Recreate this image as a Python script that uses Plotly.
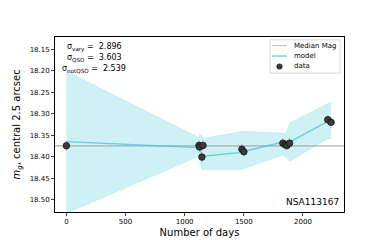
import plotly.graph_objects as go

# Observations
days = [0, 1121, 1126, 1146, 1155, 1484, 1501, 1830, 1850, 1864, 1887, 2210, 2238]
mags = [18.3746, 18.3737, 18.3775, 18.401, 18.3737, 18.3826, 18.3886,
        18.3685, 18.372, 18.374, 18.3685, 18.314, 18.320]
mag_err = [0.012] * len(days)

# Model (GP) mean and band
model_days = [0, 1121, 1126, 1146, 1155, 1484, 1501, 1830, 1850, 1864, 1887, 2210, 2238]
model_mag = [18.365, 18.378, 18.379, 18.398, 18.399, 18.390, 18.388,
             18.366, 18.367, 18.368, 18.366, 18.318, 18.316]
model_lo = [18.200, 18.356, 18.347, 18.352, 18.357, 18.341, 18.341,
            18.345, 18.345, 18.340, 18.322, 18.276, 18.274]
model_hi = [18.532, 18.399, 18.408, 18.430, 18.430, 18.430, 18.428,
            18.396, 18.400, 18.405, 18.411, 18.358, 18.358]

median_mag = 18.375
sigma_labels = ["vary", "QSO", "notQSO"]
sigma_values = [2.896, 3.603, 2.539]
object_name = "NSA113167"
legend_labels = ["Median Mag", "model", "data"]

x_range = [-96, 2347]
y_range = [18.529, 18.121]
y_ticks = [18.15, 18.20, 18.25, 18.30, 18.35, 18.40, 18.45, 18.50]
x_ticks = [0, 500, 1000, 1500, 2000]

FONT = "DejaVu Sans"
W, H = 374, 240
ML, MR, MT, MB = 47, 38, 29, 27
PW, PH = W - ML - MR, H - MT - MB


def px(x):
    return (x - ML) / PW


def py(y):
    return 1 - (y - MT) / PH


MEDIAN_COL = "rgba(160,160,160,0.6)"
MODEL_COL = "rgba(60,190,215,0.7)"
DATA_COL = "#3c3c3c"

fig = go.Figure()

# band
fig.add_trace(go.Scatter(x=model_days, y=model_lo, mode="lines",
                         line=dict(width=0.5, color="rgba(23,190,207,0.25)"),
                         showlegend=False, hoverinfo="skip"))
fig.add_trace(go.Scatter(x=model_days, y=model_hi, mode="lines",
                         line=dict(width=0.5, color="rgba(23,190,207,0.25)"),
                         fill="tonexty", fillcolor="rgba(23,190,207,0.21)",
                         showlegend=False, hoverinfo="skip"))
# median
fig.add_trace(go.Scatter(x=x_range, y=[median_mag, median_mag], mode="lines",
                         line=dict(color=MEDIAN_COL, width=1.8),
                         name=legend_labels[0], showlegend=False))
# model
fig.add_trace(go.Scatter(x=model_days, y=model_mag, mode="lines",
                         line=dict(color=MODEL_COL, width=1.4),
                         name=legend_labels[1], showlegend=False))
# data
fig.add_trace(go.Scatter(x=days, y=mags, mode="markers",
                         marker=dict(size=6.5, color=DATA_COL,
                                     line=dict(color="#111111", width=0.8)),
                         error_y=dict(type="data", array=mag_err, color="rgba(150,150,150,0.6)",
                                      thickness=1, width=0),
                         name=legend_labels[2], showlegend=False))

# sigma text block
for i, (lab, val) in enumerate(zip(sigma_labels, sigma_values)):
    fig.add_annotation(x=px(86), y=py([40, 51.5, 62.5][i]), xref="paper", yref="paper",
                       text=f"σ<sub>{lab}</sub> =  {val:.3f}", showarrow=False,
                       xanchor="center", yanchor="middle",
                       font=dict(family=FONT, size=8, color="black"))

fig.add_annotation(x=px(333), y=py(203), xref="paper", yref="paper", text=object_name,
                   showarrow=False, xanchor="right", yanchor="middle",
                   font=dict(family=FONT, size=9, color="black"))

fig.add_annotation(x=px(9), y=0.5, xref="paper", yref="paper",
                   text="<i>m</i><sub><i>g</i></sub>, central 2.5 arcsec",
                   textangle=-90, showarrow=False, xanchor="center", yanchor="middle",
                   font=dict(family=FONT, size=10, color="black"))

# manual legend (matplotlib-style compact box)
fig.add_shape(type="rect", xref="paper", yref="paper",
              x0=px(262), x1=px(332), y0=py(67), y1=py(32),
              line=dict(color="#d0d0d0", width=0.8), fillcolor="rgba(255,255,255,0.8)",
              layer="above")
leg_y = [38, 49, 60]
fig.add_shape(type="line", xref="paper", yref="paper", x0=px(264), x1=px(279),
              y0=py(leg_y[0]), y1=py(leg_y[0]), line=dict(color=MEDIAN_COL, width=1.2),
              layer="above")
fig.add_shape(type="line", xref="paper", yref="paper", x0=px(264), x1=px(279),
              y0=py(leg_y[1]), y1=py(leg_y[1]), line=dict(color=MODEL_COL, width=1.5),
              layer="above")
fig.add_shape(type="circle", xref="paper", yref="paper", x0=px(268.8), x1=px(274.2),
              y0=py(leg_y[2] + 2.7), y1=py(leg_y[2] - 2.7),
              line=dict(color="#111111", width=0.8), fillcolor=DATA_COL, layer="above")
for lab, yy in zip(legend_labels, leg_y):
    fig.add_annotation(x=px(284), y=py(yy), xref="paper", yref="paper", text=lab,
                       showarrow=False, xanchor="left", yanchor="middle",
                       font=dict(family=FONT, size=7, color="black"))

fig.update_layout(
    width=W, height=H,
    margin=dict(l=ML, r=MR, t=MT, b=MB),
    paper_bgcolor="white", plot_bgcolor="white",
    font=dict(family=FONT, size=8, color="black"),
    showlegend=False,
    xaxis=dict(range=x_range, tickvals=x_ticks, ticks="outside", ticklen=3,
               tickwidth=0.8, showline=True, linecolor="black", linewidth=0.8,
               mirror=True, showgrid=False, zeroline=False,
               title=dict(text="Number of days", font=dict(family=FONT, size=10), standoff=3),
               tickfont=dict(family=FONT, size=7)),
    yaxis=dict(range=y_range, tickvals=y_ticks, tickformat=".2f", ticks="outside",
               ticklen=3, tickwidth=0.8, showline=True, linecolor="black", linewidth=0.8,
               mirror=True, showgrid=False, zeroline=False,
               tickfont=dict(family=FONT, size=7)),
)

fig.write_html("out.html")
